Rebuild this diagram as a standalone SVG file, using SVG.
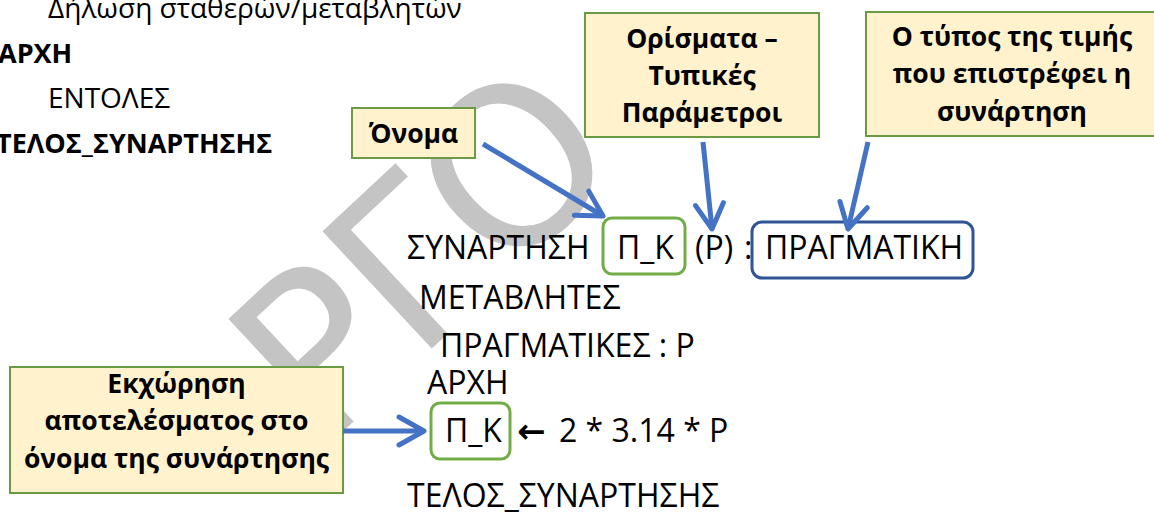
<svg xmlns="http://www.w3.org/2000/svg" width="1154" height="514" viewBox="0 0 1154 514">
  <defs>
    <style>
      .code { font-family: "Open Sans", "DejaVu Sans", sans-serif; font-size: 28px; fill: #000; }
      .codeb { font-family: "Open Sans", "DejaVu Sans", sans-serif; font-size: 27px; font-weight: bold; fill: #000; }
      .big { font-family: "Open Sans", "DejaVu Sans", sans-serif; font-size: 32px; fill: #000; }
      .sym { font-family: "DejaVu Sans", sans-serif; font-size: 34px; font-weight: bold; fill: #000; }
      .note { fill: #fff2cc; stroke: #6a9b44; stroke-width: 2; }
      .notetext { font-family: "Open Sans", "DejaVu Sans", sans-serif; font-size: 26.5px; font-weight: bold; fill: #000; text-anchor: middle; }
      .namebox { fill: none; stroke: #70ad47; stroke-width: 3; }
      .typebox { fill: none; stroke: #2f5597; stroke-width: 3; }
      .conn { fill: none; stroke: #4472c4; stroke-width: 5; }
      .wm { font-family: "DejaVu Sans", sans-serif; font-size: 220px; letter-spacing: -4px; fill: #c4c4c4; }
    </style>
    <marker id="open-arrow" viewBox="-30 -18 34 36" refX="0" refY="0" markerWidth="34" markerHeight="36" markerUnits="userSpaceOnUse" orient="auto">
      <path d="M-25,-14 L0,0 L-25,14" fill="none" stroke="#4472c4" stroke-width="5" stroke-linecap="round" stroke-linejoin="round"/>
    </marker>
  </defs>

  <rect width="1154" height="514" fill="#ffffff"/>

  <!-- background watermark -->
  <g id="watermark">
    <text class="wm" transform="translate(322,451) rotate(-43)">ΡΓΟ</text>
  </g>

  <!-- general form of a function (top left) -->
  <g id="general-form">
    <text class="code" x="48" y="18">Δήλωση σταθερών/μεταβλητών</text>
    <text class="codeb" x="-2" y="63">ΑΡΧΗ</text>
    <text class="code" x="48" y="108">ΕΝΤΟΛΕΣ</text>
    <text class="codeb" x="-4" y="153">ΤΕΛΟΣ_ΣΥΝΑΡΤΗΣΗΣ</text>
  </g>

  <!-- example function -->
  <g id="example-code">
    <text class="big" x="407" y="259">ΣΥΝΑΡΤΗΣΗ</text>
    <text class="big" x="617" y="259">Π_Κ</text>
    <text class="big" x="695" y="259">(Ρ)</text>
    <text class="big" x="744" y="259">:</text>
    <text class="big" x="765" y="259">ΠΡΑΓΜΑΤΙΚΗ</text>
    <text class="big" x="419" y="309">ΜΕΤΑΒΛΗΤΕΣ</text>
    <text class="big" x="440" y="357">ΠΡΑΓΜΑΤΙΚΕΣ : Ρ</text>
    <text class="big" x="427" y="394">ΑΡΧΗ</text>
    <text class="big" x="445" y="442">Π_Κ</text>
    <text class="sym" x="517" y="443">←</text>
    <text class="big" x="559" y="442">2 * 3.14 * Ρ</text>
    <text class="big" x="407" y="507">ΤΕΛΟΣ_ΣΥΝΑΡΤΗΣΗΣ</text>
  </g>

  <g id="name-highlight">
    <rect class="namebox" x="603" y="218" width="82" height="56" rx="9"/>
  </g>
  <g id="type-highlight">
    <rect class="typebox" x="752" y="222" width="221" height="56" rx="10"/>
  </g>
  <g id="result-highlight">
    <rect class="namebox" x="431" y="403" width="79" height="56" rx="9"/>
  </g>

  <!-- callouts -->
  <g id="note-name">
    <rect class="note" x="352" y="108" width="123" height="50"/>
    <text class="notetext" x="413.5" y="143">Όνομα</text>
  </g>
  <g id="note-params">
    <rect class="note" x="585" y="13" width="234" height="124"/>
    <text class="notetext" x="702" y="48">Ορίσματα –</text>
    <text class="notetext" x="702" y="85">Τυπικές</text>
    <text class="notetext" x="702" y="122">Παράμετροι</text>
  </g>
  <g id="note-type">
    <rect class="note" x="866" y="12" width="294" height="124"/>
    <text class="notetext" x="1012" y="46">Ο τύπος της τιμής</text>
    <text class="notetext" x="1012" y="83">που επιστρέφει η</text>
    <text class="notetext" x="1012" y="121">συνάρτηση</text>
  </g>
  <g id="note-assign">
    <rect class="note" x="10" y="367" width="333" height="126"/>
    <text class="notetext" x="176.5" y="393">Εκχώρηση</text>
    <text class="notetext" x="176.5" y="430">αποτελέσματος στο</text>
    <text class="notetext" x="176.5" y="468">όνομα της συνάρτησης</text>
  </g>

  <!-- connectors -->
  <g id="connectors">
    <line class="conn" x1="483" y1="144" x2="603" y2="216" marker-end="url(#open-arrow)"/>
    <line class="conn" x1="703" y1="142" x2="712" y2="229" marker-end="url(#open-arrow)"/>
    <line class="conn" x1="868" y1="142" x2="848" y2="229" marker-end="url(#open-arrow)"/>
    <line class="conn" x1="343" y1="431" x2="424" y2="431" marker-end="url(#open-arrow)"/>
  </g>
</svg>
